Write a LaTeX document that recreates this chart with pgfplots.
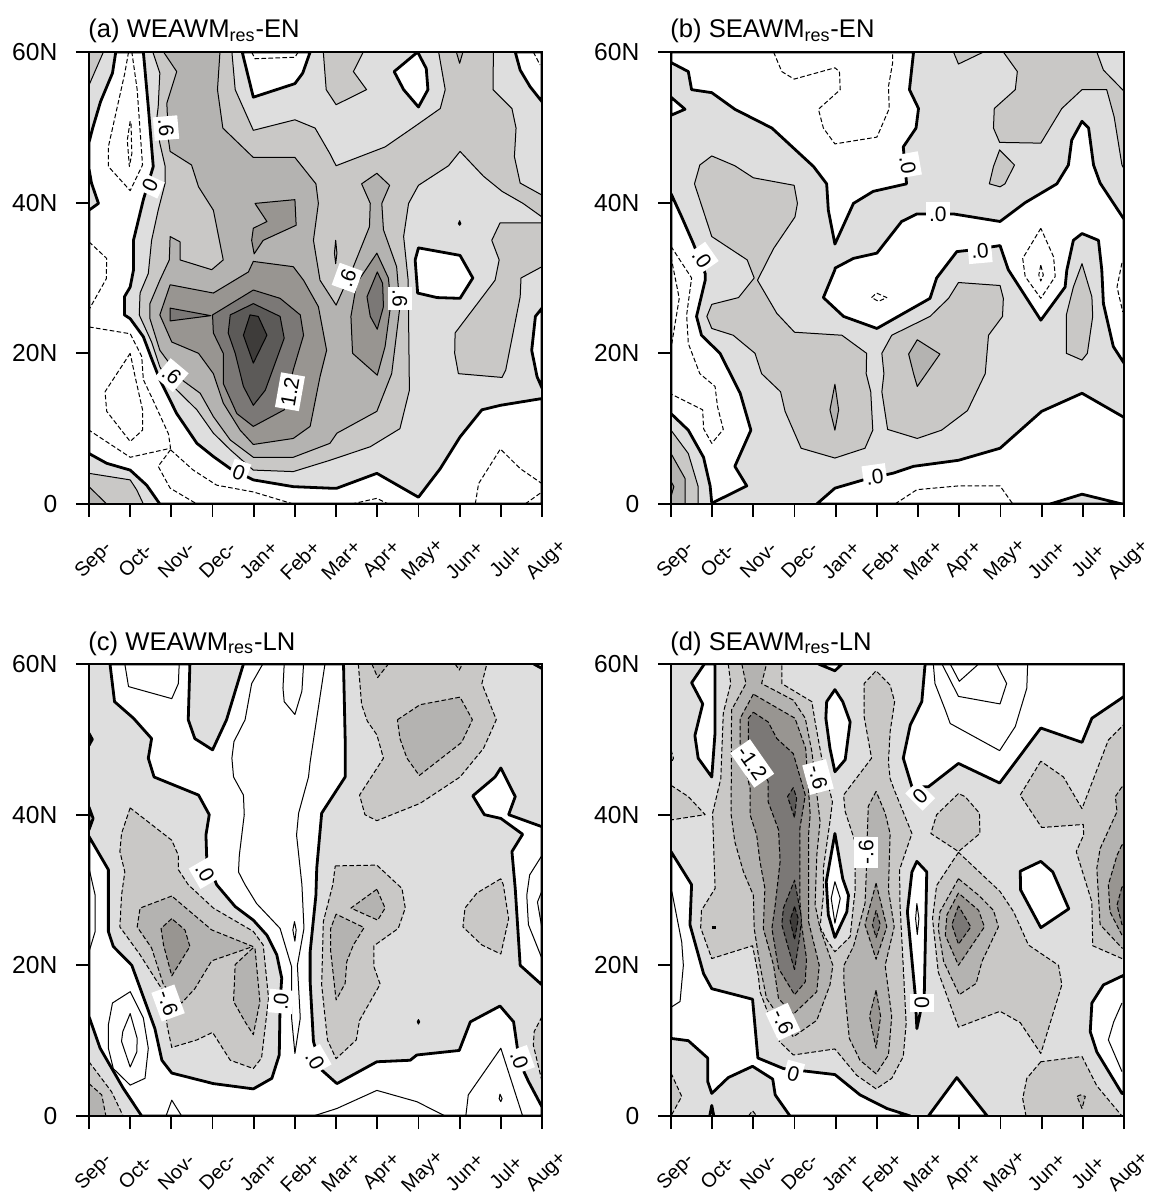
\documentclass[border=0pt]{standalone}
\usepackage{pgfplots}
\pgfplotsset{compat=1.18}
\usepackage{fontspec}
\setmainfont{Liberation Sans}
\definecolor{c1}{HTML}{DEDEDE}
\definecolor{c2}{HTML}{C9C8C6}
\definecolor{c3}{HTML}{B4B3B1}
\definecolor{c4}{HTML}{989591}
\definecolor{c5}{HTML}{7B7876}
\definecolor{c6}{HTML}{5C5A58}
\definecolor{c7}{HTML}{3E3C3A}
\tikzset{
 pos/.style={fill=#1,draw=black,line width=.5pt,line join=round},
 neg/.style={fill=#1,draw=black,line width=.5pt,dash pattern=on 2.3pt off 1.2pt,line join=round},
 wht/.style={fill=white,draw=black,line width=1.4pt,line join=round},
 pl/.style={draw=black,line width=.5pt,line join=round},
 nl/.style={draw=black,line width=.5pt,dash pattern=on 2.3pt off 1.2pt,line join=round},
 tl/.style={draw=black,line width=1.4pt,line join=round}
}
\newcommand{\R}[2]{\addplot[#1] coordinates {#2} -- cycle;}
\newcommand{\Li}[2]{\addplot[#1] coordinates {#2};}
\newcommand{\Lb}[4]{\node[fill=white,inner xsep=1.5pt,inner ysep=2.4pt,rotate=#3,font=\fontsize{10.5}{10.5}\selectfont] at (axis cs:#1,#2) {#4};}
\pgfplotsset{pan/.style={
 scale only axis,width=226.5pt,height=226pt,anchor=south west,
 xmin=0,xmax=11,ymin=0,ymax=60,axis on top,
 axis line style={line width=1.1pt,black},
 tick style={line width=.9pt,black},
 tick align=outside,major tick length=6.5pt,
 xtick={0,...,11},ytick={0,20,40,60},
 xtick pos=bottom,ytick pos=left,
 xticklabels={Sep-,Oct-,Nov-,Dec-,Jan+,Feb+,Mar+,Apr+,May+,Jun+,Jul+,Aug+},
 yticklabels={0,20N,40N,60N},
 xticklabel style={anchor=center,font=\fontsize{10}{10}\selectfont,xshift=2.5pt,yshift=-21.6pt,rotate=45},
 yticklabel style={font=\fontsize{12.3}{12.3}\selectfont,xshift=-5.8pt},
 title style={at={(0,1)},anchor=base west,yshift=1pt,xshift=-.5pt,font=\fontsize{12.8}{12.8}\selectfont,inner sep=0pt},
}}
\begin{document}
\begin{tikzpicture}
\useasboundingbox (0pt,0pt) rectangle (577.5pt,596.5pt);
% ---------- (a)
\begin{axis}[pan,at={(44.5pt,344.5pt)},title={(a) WEAWM\textsubscript{res}-EN}]
\R{pos=c1,draw=none}{(0,0)(11,0)(11,60)(0,60)}
\R{wht}{(.65,60)(1.32,60)(1.44,52.7)(1.56,44.8)(1.32,40.4)(1.08,35)(1.08,31.06)(1,28.8)(.86,27.5)(.86,25.1)(1,24.6)(1.32,22.2)(1.52,19.3)(1.72,16.5)(2.13,12)(2.62,8.05)(3.02,6.3)(3.43,4.7)(3.99,3.2)(4.96,2.3)(5.85,2.1)(6.02,2.1)(6.99,4.07)(8,.9)(8.53,4.7)(9.01,8.9)(9.54,12.5)(9.99,13.1)(11,14)(11,0)(1.72,0)(1.4,2.5)(1,4.5)(.43,5.4)(0,6.7)(0,39)(.23,39.9)(.06,42.6)(0,44.5)(0,48)(.09,49.9)(.28,53.4)(.57,57.2)}
\R{wht}{(3.72,60)(3.99,54)(5,55.8)(5.19,57.2)(5.37,60)}
\R{wht}{(7.98,60)(7.41,57.4)(7.64,55)(8,52.7)(8.23,55)(8.19,57.8)}
\R{wht}{(8,34)(7.92,32.4)(7.98,28)(8.45,27.4)(9.01,27.3)(9.32,30)(9.01,33)}
\R{wht}{(10.35,60)(10.47,57.6)(10.71,55.4)(11,53.4)(11,60)}
\R{wht}{(11,26)(10.84,24.9)(10.75,20.4)(10.88,16.9)(11,15.4)}
\R{pos=black}{(8.97,37.2)(9,37.6)(9.03,37.2)(9,37)}
% c2
\R{pos=c2}{(1.55,60)(1.72,57.2)(1.68,52.7)(1.63,50.5)(1.72,47.9)(1.85,44.8)(1.85,42.6)(1.68,39)(1.52,35)(1.44,30.6)(1.24,28)(1.22,25.1)(1.52,21.5)(1.72,18.2)(1.97,16)(2.62,12.5)(3.02,9.4)(3.43,7.2)(3.99,4.5)(4.96,4.3)(5.85,5.8)(6.83,7.6)(7.55,10)(7.78,15.1)(7.75,29.7)(7.64,35.5)(7.76,39.9)(8,42.3)(8.73,44.9)(9.01,46.8)(9.58,43.5)(10.03,41.5)(10.54,39.9)(11,38.1)(11,41)(10.47,42.6)(10.33,46.1)(10.37,49.9)(10.27,52.5)(9.81,55)(9.82,60)(8.49,60)(8.65,55)(8.53,52.5)(7.88,50)(7.19,47.4)(6,44.9)(5.85,46.5)(5.49,49.9)(5,51)(3.99,49.6)(3.55,55)(3.47,60)}
\R{pos=c2}{(5.69,60)(5.76,55)(6,53)(6.74,55)(6.42,57.4)(6.66,60)}
\R{pos=c2}{(0,60)(.35,60)(0,55.6)}
\R{pos=c2}{(9.98,37.3)(9.78,35)(9.96,32.4)(9.86,29.7)(8.89,22.7)(8.88,20)(8.97,17.3)(10.03,16.8)(10.12,17.8)(10.47,27.5)(10.49,30)(11,31.5)(11,37.3)}
\R{pos=c2}{(0,4.07)(1,3.2)(1.16,1.86)(1.32,0)(0,0)}
\R{pos=c3}{(0,2.3)(.43,0)(0,0)}
% c3
\R{pos=c3}{(1.81,60)(2.13,57.4)(1.89,53.2)(1.93,48.3)(1.97,46.8)(2.49,45)(2.66,42.1)(3.02,39)(3.26,32.4)(2.98,31.1)(2.21,32.4)(2.21,34.8)(1.97,35.5)(1.95,32.4)(1.72,29.7)(1.48,26.6)(1.48,24.6)(1.72,20.4)(2.25,16.5)(2.7,14.7)(3.02,11.6)(3.43,8.5)(3.99,6.2)(4.96,6.2)(5.85,8.05)(6.02,9.4)(6.99,12.3)(7.35,17.3)(7.55,26.2)(7.47,31.5)(7.15,36.4)(7.11,39.9)(7.3,42.3)(6.99,43.9)(6.62,42.5)(6.83,39.9)(6.81,36.8)(6.42,31.5)(6,26.4)(5.61,29.7)(5.45,35)(5.57,39.9)(5.51,42.5)(5,46)(3.99,46)(3.25,49.9)(3.12,55)(3.18,60)}
\R{pos=c3}{(5.99,35)(5.96,33.3)(5.99,31.9)(6.02,33.3)}
\R{pos=c3}{(8.92,60)(9,58.5)(9.08,60)}
% c4
\R{pos=c4}{(4.03,39.9)(5,40.4)(5.03,37)(4.23,35)(4.01,33.2)(3.95,35)(3.99,36.6)(4.32,37.5)}
\R{pos=c4}{(1.97,29.1)(3.02,28)(3.87,30.8)(3.99,32.2)(4.96,31.5)(5.21,29.7)(5.57,26.2)(5.77,20.4)(5.61,16.9)(5.37,10.3)(4.96,8.7)(3.99,7.9)(3.67,9.8)(3.26,13.4)(3.02,17.3)(2.66,20)(2.01,21.5)(1.72,25.1)}
\R{pos=c4}{(6.99,33.3)(6.5,29.3)(6.36,24.9)(6.4,20)(7,17.1)(7.19,20.9)(7.33,26.6)(7.27,30)}
% c5
\R{pos=c5}{(7,30.8)(6.75,27.5)(6.83,24.9)(7,23.2)(7.15,26.2)(7.13,29.3)}
\R{pos=c5}{(3,25.1)(3.99,28.4)(4.64,27.3)(5.13,25.1)(5.21,22.4)(4.96,17.8)(4.74,12.5)(3.99,10.3)(3.59,12)(3.26,16)(3.26,20)(3.02,22.7)}
\R{pos=c5}{(1.97,26)(2.96,25)(1.97,24.3)}
\R{pos=c6}{(3.43,25.1)(3.99,26.6)(4.64,24.9)(4.74,22)(4.28,15.1)(3.99,13.1)(3.75,15.6)(3.55,20)(3.38,22.7)}
\R{pos=c7}{(3.75,22.4)(3.91,25.1)(4.11,24.9)(4.32,22.4)(3.99,18.7)}
% dashed
\Li{nl}{(3.95,60)(4.03,59.1)(5,59.3)(5.08,60)}
\Li{nl}{(10.79,60)(10.95,58.3)}
\R{nl}{(.96,60)(.87,57.2)(.47,47.4)(.47,44.8)(1,41.6)(1.3,45)(1.17,55)(1.04,60)}
\R{nl}{(1,50.8)(.93,48.3)(.98,44.8)(1.04,46.5)(1.02,50.6)}
\Li{nl}{(0,34.8)(.43,32.6)(.42,29.9)(0,25.8)}
\Li{nl}{(0,23.5)(1,22.6)(1.28,19.6)(1.32,16.5)(1.52,14.2)(1.93,9.3)(1.98,7.4)(1,6.2)(0,9.8)}
\R{nl}{(1,20)(.39,14.9)(.43,12.3)(1,8.3)(1.3,9.8)(1.3,12.5)(1.12,16.9)}
\Li{nl}{(1.98,7.2)(1.68,5)(1.97,2.1)(2.62,0)}
\Li{nl}{(1.98,7.2)(2.53,4.5)(3.1,2.5)(3.99,1.6)(4.96,0)}
\Li{nl}{(6.38,0)(6.99,.75)(7.27,0)}
\Li{nl}{(9.38,0)(9.46,2.7)(9.99,7.3)(10.47,4.7)(11,2.7)}
\Li{nl}{(10.59,0)(11,1.6)}
\Lb{1.87}{49.9}{-85}{.6}
\Lb{1.48}{42.3}{65}{0}
\Lb{2.01}{17.1}{-40}{.6}
\Lb{3.64}{4.1}{-20}{0}
\Lb{4.88}{14.9}{80}{1.2}
\Lb{6.27}{30}{70}{.6}
\Lb{7.55}{27.3}{-90}{.6}
\end{axis}
% ---------- (b)
\begin{axis}[pan,at={(335.5pt,344.5pt)},title={(b) SEAWM\textsubscript{res}-EN}]
\R{pos=c1,draw=none}{(0,0)(11,0)(11,60)(0,60)}
\R{wht}{(0,58.6)(.42,57.4)(.5,55)(.99,54.6)(1.55,52.4)(2.45,49.9)(3.46,44.8)(3.78,42.5)(3.82,39)(3.98,34.5)(4.43,39.9)(4.91,41.5)(5.72,42.5)(5.64,47.4)(5.95,49.9)(6.01,52.5)(5.79,55)(5.89,60)(0,60)}
\R{wht}{(0,54)(.34,52.4)(0,51.6)}
\R{wht}{(0,41.2)(.26,38.1)(.54,34.6)(.83,30.6)(.83,29.7)(.62,24.9)(.74,22.4)(1.19,20)(1.68,14.7)(1.94,9.8)(1.55,5)(1.84,2.4)(.99,.1)(.95,2.4)(.79,6.2)(.42,9.8)(0,12)}
\R{wht}{(3.54,0)(3.98,2.1)(4.67,3.2)(5.4,4.1)(5.89,5)(6.98,5.8)(7.99,7.4)(9,12.3)(9.98,14.7)(11,11.5)(11,0)}
\R{pos=c1,line width=1.4pt}{(9.21,0)(9.98,1.3)(10.95,0)}
\R{wht}{(3.98,31.3)(4.43,32.6)(5,33.3)(5.6,37.5)(5.97,38.5)(6.86,38.5)(7.99,37.5)(8.6,40)(9.37,42.5)(9.65,45)(9.73,48.3)(9.98,50.8)(10.14,49.9)(10.26,45)(10.42,42.6)(11,37.8)(11,18.7)(10.74,20.9)(10.5,26.6)(10.46,31.1)(10.38,35)(9.98,35.9)(9.77,35)(9.61,31)(9.57,28.8)(8.98,24.4)(8.19,31.1)(7.99,34.3)(7.26,33.7)(6.94,33.5)(6.45,30)(6.29,27.3)(5,23.3)(4.19,24.9)(3.7,27.4)(3.98,31.1)}
\R{pos=c2}{(.99,46.2)(.7,45)(.57,42.5)(.99,35.5)(1.85,32.4)(2.02,30)(1.64,27.4)(.99,26.5)(.87,24.9)(.99,23.3)(1.51,22.4)(2.04,20)(2.2,17.3)(2.66,14.9)(2.77,12.3)(3.16,7.4)(3.98,6.1)(4.71,7.4)(4.9,9.8)(4.85,14.9)(4.74,17.3)(4.75,20)(4.15,22.4)(3,22.8)(2.57,25.3)(2.1,29.7)(2.49,33.9)(3.01,38.1)(3.07,39.9)(2.99,42.3)(2,43.3)(1.55,44.9)}
\R{pos=c3}{(3.98,15.9)(3.86,12.5)(3.98,9.8)(4.07,12.5)}
\R{pos=c2}{(6.98,29.4)(7.99,29)(8.07,27.3)(8.05,24.9)(7.71,22.4)(7.63,17.3)(7.2,12.4)(6.57,9.8)(5.98,8.7)(5.26,9.9)(5.12,14.9)(5.17,17.3)(5.12,20)(5.36,22.4)(6.29,24.9)(6.74,27.3)}
\R{pos=c3}{(5.98,21.8)(5.77,19.9)(5.89,17.3)(5.98,15.6)(6.53,19.9)}
\R{pos=c2}{(8.07,60)(8.41,57.4)(8.36,55)(7.85,52.5)(7.83,49.9)(7.98,48)(8.98,47.9)(9.49,52.5)(9.98,55)(10.58,55)(10.76,51.4)(10.95,45)(11,44.5)(11,54.8)(10.5,57.6)(10.34,60)}
\R{pos=c2}{(7.98,47)(7.83,44.8)(7.73,42.5)(7.99,42.1)(8.11,42.5)(8.34,45)}
\R{pos=c2}{(6.86,60)(6.98,58.4)(7.59,60)}
\R{pos=c2}{(9.98,31.9)(9.77,28.8)(9.6,25.1)(9.6,20)(9.98,19.1)(10.11,20)(10.24,24.9)(10.22,27.5)}
\R{pos=c2}{(0,9.8)(.42,6.7)(.66,2.3)(.66,0)(0,0)}
\R{pos=c3}{(0,6.7)(.34,3.4)(.34,0)(0,0)}
\R{pos=c4}{(0,3)(.07,2.3)(0,1)}
\Li{nl}{(2.49,60)(2.69,57.4)(2.99,56.4)(3.98,57.9)(4.09,57.4)(4.11,55)(3.58,52.4)(3.7,49.9)(3.98,47.8)(5,48.7)(5.3,52.5)(5.28,55.4)(5.38,58.5)(5.38,60)}
\R{nl}{(8.98,36.6)(8.54,32.6)(8.6,30.2)(8.98,27.3)(9.33,30.2)(9.29,32.8)}
\R{nl}{(8.98,31.7)(8.93,30.4)(8.98,29.6)(9.04,30.4)}
\R{nl}{(4.87,27.4)(4.99,28)(5.24,27.4)(5.04,26.9)}
\Li{nl}{(0,34.2)(.5,30)(.38,25.1)(.42,21.3)(.7,17.3)(1.07,15.6)(1.13,12.9)(1.27,9.9)(.99,8.05)(.79,10)(.77,12.5)(0,14.6)}
\Li{nl}{(0,32.8)(.2,27.3)(.02,21.3)}
\Li{nl}{(5.44,0)(5.97,1.9)(6.98,2.4)(7.99,2.4)(8.3,0)}
\Li{nl}{(10.95,32)(10.83,28.8)(10.97,25.5)}
\Lb{.75}{32.6}{-55}{.0}
\Lb{5.75}{45}{-80}{.0}
\Lb{6.48}{38.4}{0}{.0}
\Lb{7.5}{33.6}{5}{.0}
\Lb{4.95}{3.6}{8}{.0}
\end{axis}
% ---------- (c)
\begin{axis}[pan,at={(44.5pt,38.5pt)},title={(c) WEAWM\textsubscript{res}-LN}]
\R{pos=c1,draw=none}{(0,0)(11,0)(11,60)(0,60)}
\R{wht}{(.51,60)(.62,55)(1.08,52.8)(1.52,50.1)(1.44,47.5)(1.58,45)(2.66,42.6)(2.92,40)(2.84,37.3)(2.86,34)(3.1,30.7)(3.55,27.8)(3.99,26)(4.32,24)(4.56,21.4)(4.68,18.3)(4.64,15)(4.62,8.1)(4.44,5)(3.99,3.6)(3.02,4.3)(2.01,5.7)(1.77,7.4)(1.6,11.6)(1.04,20)(.59,22.5)(.47,24.5)(.47,30.7)(.47,32.7)(0,37.1)(0,13.2)(.27,9)(.83,3.7)(1.28,0)(11,0)(11,1.2)(10.67,4.6)(10.45,7.2)(10.31,12.5)(9.98,14.6)(9.26,12.5)(8.99,8.7)(7.96,8.1)(7.8,7.4)(6.99,7.2)(6.02,4.3)(5.65,6.1)(5.45,9.9)(5.37,17.8)(5.37,21.8)(5.51,29.3)(5.53,32.9)(5.65,40.2)(6.22,45)(6.22,50.1)(6.18,60)(3.75,60)(3.34,52.6)(3,48.6)(2.57,50.1)(2.41,52.6)(2.45,60)}
\R{wht}{(11,38.4)(10.19,40)(10.35,42.4)(10,46.2)(9.86,45)(9.32,42.5)(9.6,40)(10,39.5)(10.53,37.4)(10.27,35.1)(10.35,30.2)(10.47,20)(11,17.4)}
\R{wht}{(0,50.8)(.08,50)(0,49.2)}
\R{wht}{(0,41)(.1,39.5)(0,38)}
\Li{tl}{(10.8,60)(11,59.4)}
\Li{pl}{(11,34.6)(10.7,32)(10.63,29.3)(10.67,25.4)(11,20.9)}
\Li{pl}{(11,29.9)(10.89,28.4)(11,24.9)}
\Li{pl}{(.87,60)(.96,57)(2.01,55.4)(2.17,57.4)(2.19,60)}
\Li{pl}{(4.22,60)(3.95,57.4)(3.79,52.6)(3.52,49.7)(3.47,47.5)(3.51,45)(3.75,42.6)(3.77,40)(3.65,34.6)(3.63,32.4)(3.79,30.7)(4.07,28.2)(4.64,24.9)(4.92,19.8)(4.92,13)(5,8.3)(5.13,13)(5.06,20)(5.22,24.9)(5.17,30.7)(5.04,37.3)(5.09,40.2)(5.33,45)(5.37,47)(5.73,60)}
\R{pl}{(4.99,25.8)(4.95,24.7)(5,23.2)(5.03,24.7)}
\Li{pl}{(4.74,60)(4.71,56.8)(4.74,55)(5,53.3)(5.17,56.4)(5.21,60)}
\Li{pl}{(0,32.9)(.15,29.3)(.15,24.5)(0,21.8)}
\R{pl}{(1,16.5)(.57,15)(.47,12.1)(.47,9)(.59,6.3)(1,4.1)(1.36,5)(1.44,9)(1.32,13)}
\R{pl}{(1,13.6)(.82,11.2)(.79,9.9)(1,6.5)(1.16,8.5)(1.17,10.3)}
\Li{pl}{(1.87,0)(2.01,2.1)(2.25,0)}
\Li{pl}{(5.45,0)(6.02,1)(6.99,3.4)(7.96,1.9)(8.65,0)}
\Li{pl}{(9.15,0)(9.21,2.8)(10,9)(10.53,0)}
\R{pl}{(9.98,2.9)(9.96,2.3)(10,1.9)(10.03,2.3)}
\R{pos=black}{(7.97,12.5)(8,12.8)(8.03,12.5)(8,12.2)}
\R{neg=c2}{(11,13.2)(10.81,11.2)(10.79,9.4)(11,4.6)}
\R{neg=c2}{(0,7.2)(.55,3.2)(.83,0)(0,0)}
\R{neg=c3}{(0,4.3)(.31,2.8)(.41,0)(0,0)}
\R{neg=c2}{(1,40.9)(.79,37.5)(.75,35.1)(.87,32.4)(.79,29.3)(.75,25.1)(1.24,21.4)(1.81,16.5)(1.9,11.9)(2.01,9.1)(2.62,10.1)(3,11.1)(3.43,7.4)(3.99,6.3)(4.19,7.7)(4.36,15.6)(4.23,22.7)(3.99,24.5)(3.02,27.6)(2.41,30.7)(2.17,32.7)(2.17,34.6)(2.01,36.6)}
\R{neg=c3}{(2.01,29.2)(1.24,27.6)(1.17,25.1)(1.52,22.3)(1.81,17.4)(2.25,15)(2.57,16.9)(2.98,20.6)(3.98,22.5)(2.98,24.7)}
\R{neg=c3}{(3.98,22.3)(3.55,20.1)(3.51,15.2)(3.79,12.5)(3.99,10.8)(4.15,15.2)(4.03,22.3)}
\R{neg=c4}{(2.01,26.2)(1.75,24.9)(1.81,22.7)(2.01,18.6)(2.45,22.5)(2.33,24.7)}
\R{neg=c2}{(6.54,60)(6.62,54.6)(6.76,52.4)(6.99,50.6)(7.15,47.5)(6.57,42.6)(6.7,40)(6.99,39.2)(8.04,41.5)(9.01,45)(9.58,48.8)(9.89,52.6)(9.54,57.4)(9.66,60)}
\R{neg=c3}{(7.49,52.6)(8.04,54.6)(9.01,55.6)(9.31,52.6)(9.05,49.6)(8.02,45.2)(7.72,47.5)(7.55,50.1)}
\R{neg=c3}{(6.87,60)(7.01,58.2)(7.27,60)}
\R{neg=c3}{(8.89,60)(8.99,59.2)(9.07,60)}
\R{neg=c2}{(5.98,33.2)(6.99,33.3)(7.6,30.2)(7.68,27.6)(7.51,24.9)(6.92,22.6)(6.92,19.8)(7.07,17.5)(6.57,12.7)(6.49,10.1)(6,7.6)(5.79,10.1)(5.65,17.4)(5.69,25.8)(5.92,30.7)}
\R{neg=c3}{(6,26.8)(5.87,24.9)(5.87,21.8)(6,15.4)(6.22,17.6)(6.26,20.5)(6.42,22.7)(6.68,25)}
\R{neg=c3}{(6.99,30.1)(6.36,27.6)(7.01,26)(7.19,27.6)}
\R{neg=c2}{(10,31.5)(9.42,29.6)(9.13,27.6)(9.08,25.1)(9.54,22.7)(10,21.5)(10.19,26.2)(10.06,30.7)}
\Lb{2.82}{32.3}{-60}{.0}
\Lb{1.92}{15}{-70}{-.6}
\Lb{4.66}{15.2}{85}{.0}
\Lb{5.49}{7.4}{-60}{.0}
\Lb{10.45}{7.4}{-70}{.0}
\end{axis}
% ---------- (d)
\begin{axis}[pan,at={(335.5pt,38.5pt)},title={(d) SEAWM\textsubscript{res}-LN}]
\R{pos=c1,draw=none}{(0,0)(11,0)(11,60)(0,60)}
\R{wht}{(.81,60)(.5,57.5)(.77,54.7)(.58,50.5)(.66,47.5)(.99,45)(1.07,50.9)(1.07,60)}
\R{wht}{(3.98,56.6)(3.78,55)(3.76,52.8)(3.86,48.8)(3.98,45.7)(4.23,47.3)(4.35,52.3)(4.17,55)}
\R{wht}{(3.58,60)(3.98,59.1)(4.15,60)}
\R{wht}{(0,35.1)(.5,30.7)(.46,25.4)(.79,18.9)(.99,16.9)(1.98,15.5)(2.11,7.7)(2.73,6.3)(3.98,5.5)(4.59,2.8)(5.24,1)(5.81,0)(2.89,0)(2.53,2.8)(2.47,4.9)(1.98,6.6)(1.39,5.1)(.99,3)(.89,4.6)(.89,7.7)(.42,10)(0,10.3)}
\Li{tl}{(.94,0)(.99,1.4)(1.04,0)}
\Li{pl}{(.02,29.8)(.26,23.1)(.3,20)(.22,15.2)(.02,14.5)}
\R{wht}{(6.17,60)(6.09,55)(5.81,51.9)(5.64,47.5)(5.85,43.7)(6.25,43.7)(6.98,46.8)(7.98,44.2)(8.98,51.5)(9.98,49.6)(10.22,52.8)(10.95,55.5)(11,55.7)(11,60)}
\Li{pl}{(6.37,60)(6.41,57.4)(6.66,53.9)(6.78,52.1)(7.98,48.5)(8.36,51.7)(8.64,56.8)(8.66,60)}
\Li{pl}{(6.58,60)(6.98,55.7)(7.99,54.7)(8.15,57.4)(7.91,60)}
\Li{pl}{(6.78,60)(7,57.7)(7.47,60)}
\R{wht}{(8.98,33.8)(8.48,32.5)(8.49,30)(8.98,25)(9.66,27.5)(9.27,32.4)}
\R{wht}{(11,18.7)(10.5,17.4)(10.22,15)(10.18,11.2)(10.34,8.5)(10.95,3)(11,3)}
\Li{pl}{(10.95,15)(10.75,12.5)(10.62,10.1)(10.95,5.9)}
\R{wht}{(6.25,0)(6.94,5.1)(7.68,0)}
\R{wht}{(3.98,37.5)(3.77,31.1)(3.82,26.7)(3.98,23.7)(4.27,27.1)(4.31,29.3)(4.17,31.5)}
\R{pl}{(3.98,31.1)(3.89,28.9)(3.98,25.6)(4.11,28.9)}
\R{wht}{(5.97,33.8)(5.85,32.4)(5.74,27.1)(5.93,16.1)(5.97,11.6)(6.07,14.2)(6.15,16.1)(6.21,32.4)}
\R{pl}{(5.97,28.2)(5.94,26.2)(5.98,24.1)(6.02,26.2)}
\R{neg=c2}{(1.39,60)(1.45,57.4)(1.27,53.5)(1.21,44.8)(1.01,40.2)(1.07,30.2)(.74,27.3)(.72,25)(.99,20.9)(1.98,22.6)(2.12,18.7)(2.16,16.5)(2.36,13.6)(2.63,9.9)(2.97,8.1)(3.98,8.9)(4.51,5.4)(4.98,3.6)(5.36,5)(5.64,7.9)(5.71,12.3)(5.56,28.2)(5.55,32.7)(5.85,37.5)(5.42,43.3)(5.32,44.8)(5.28,47)(5.32,51)(5.43,55)(5.32,57.2)(4.98,59.1)(4.69,57.4)(4.69,53)(4.87,47.5)(4.19,42.6)(4.23,40.4)(4.47,36.4)(4.47,32.2)(4.47,30)(4.35,23.8)(3.98,21.8)(3.78,23.4)(3.62,25.1)(3.7,29.3)(3.7,32.9)(3.86,39.1)(3.92,41.7)(3.66,47.5)(3.5,52.3)(3.42,55)(2.69,57.4)(2.69,60)}
\R{neg=c3}{(1.72,60)(1.82,57.4)(1.47,53.9)(1.46,40)(1.55,36.4)(1.76,32.4)(2,29.3)(2.02,24.9)(2.16,20)(2.32,15.6)(2.97,10.5)(3.54,12.7)(3.86,17.4)(3.93,20)(3.62,24.9)(3.5,28)(3.54,34.6)(3.62,39.1)(3.42,48.4)(3.26,52.8)(2.97,55.2)(2.2,57.4)(2.32,60)}
\R{neg=c4}{(2,56)(1.68,52.8)(1.68,48.8)(1.92,43.5)(1.92,40)(2.08,37.3)(2.16,33.8)(2.28,30.2)(2.24,24.9)(2.49,20)(2.61,15.6)(2.97,13.5)(3.54,16.5)(3.6,20)(3.34,25.8)(3.34,29.3)(3.34,37.3)(3.38,40)(3.27,48.8)(3.01,52.8)}
\R{neg=c5}{(2,53.6)(2.36,52.3)(2.57,50.1)(2.97,48.1)(3.26,42.6)(3.13,38.2)(3.13,33.8)(3.13,28.5)(3.17,25.4)(3.29,20.9)(3.26,17.8)(3,16.1)(2.61,19.6)(2.45,24.9)(2.53,28)(2.65,33.8)(2.61,38)(2.36,41.7)(2.36,44.4)(1.88,48.8)(1.88,52.8)}
\R{neg=c6}{(3,19.4)(2.69,25.4)(2.73,27.6)(3,31.3)(3.17,26.2)(3.13,24)}
\R{neg=c6}{(2.97,43.6)(2.83,42.4)(3,39.6)(3.05,42.2)}
\R{neg=c7}{(3,27.8)(2.89,26)(3,23.4)(3.09,26.2)}
\Li{tl}{(.99,25)(1.1,25)}
\R{neg=c2}{(0,43.9)(.42,42.4)(.83,40)(0,39.3)}
\R{neg=c2}{(0,48.6)(.06,47.5)(0,46.8)}
\R{neg=c2}{(0,5.7)(.26,2.6)(0,0)}
\R{neg=c2}{(1.88,0)(1.98,.7)(2.08,0)}
\R{neg=c3}{(4.98,43.1)(4.79,41.1)(4.75,34.9)(4.74,31.8)(4.71,28.2)(4.43,22.5)(4.2,20)(4.2,17.6)(4.33,10.3)(4.59,7.4)(4.98,5.6)(5.28,8.1)(5.36,13.2)(5.2,20)(5.42,25.1)(5.28,30)(5.32,37.5)(5.2,40.2)}
\R{neg=c4}{(4.98,30.9)(4.71,25.4)(4.98,20.8)(5.24,25.1)}
\R{neg=c4}{(4.98,16.7)(4.82,13.2)(4.98,9)(5.09,13.2)}
\R{neg=c5}{(4.98,27.3)(4.89,25.4)(4.98,23.7)(5.08,25.4)}
\R{neg=c2}{(6.98,42.8)(6.45,40)(6.31,37.5)(6.98,35.1)(7.5,37.5)(7.49,40.2)(7.14,42.4)}
\R{neg=c2}{(6.98,35)(6.45,30.6)(6.35,26.2)(6.49,19.1)(6.98,11.8)(7.99,13.9)(8.48,12.4)(8.98,8.3)(9.49,17.4)(9.41,20)(8.68,22.7)(8.32,27.1)(7.99,29.8)}
\R{neg=c3}{(6.98,31.5)(6.53,27.1)(6.49,24.9)(6.62,20.5)(7,16.1)(7.41,17.6)(7.55,20.5)(7.95,25.1)(7.83,27.3)(7.47,29.3)}
\R{neg=c4}{(6.98,29.6)(6.7,26.7)(6.66,24)(6.98,20)(7.61,25.1)(7.47,27.3)}
\R{neg=c5}{(6.98,27.9)(6.82,25.4)(6.98,22.8)(7.28,25.1)}
\R{neg=c2}{(8.98,47.1)(8.48,42.6)(9,38.3)(10.01,38.7)(10.02,37.3)(9.84,35.1)(10.22,28.4)(10.24,22.6)(10.95,20.9)(11,20.9)(11,52)(10.62,49.9)(9.98,40.8)(9.53,45)}
\R{neg=c3}{(10.95,43.7)(10.79,42.4)(10.83,40.4)(10.42,35.5)(10.34,32.9)(10.42,25.4)(10.95,22.3)(11,22.3)(11,43.7)}
\R{neg=c4}{(10.95,36)(10.83,34.6)(10.62,30.7)(10.66,27.1)(10.95,24)(11,24)(11,36)}
\R{neg=c5}{(10.95,30.4)(10.83,28)(10.95,25.4)(11,25.4)(11,30.4)}
\R{neg=c2}{(8.98,7.2)(8.64,5)(8.54,2.3)(8.62,0)(10.95,0)(10.34,4)(9.98,7.9)}
\R{neg=c3}{(9.86,2.6)(9.94,2.8)(10.06,2.6)(9.98,1)}
\Lb{1.97}{46.8}{-55}{-1.2}
\Lb{3.57}{45}{-75}{-.6}
\Lb{4.74}{35}{90}{-.6}
\Lb{2.72}{12.5}{-65}{-.6}
\Lb{2.97}{5.6}{-15}{0}
\Lb{6.05}{42.5}{45}{0}
\Lb{6.09}{15}{90}{0}
\end{axis}
\end{tikzpicture}
\end{document}
